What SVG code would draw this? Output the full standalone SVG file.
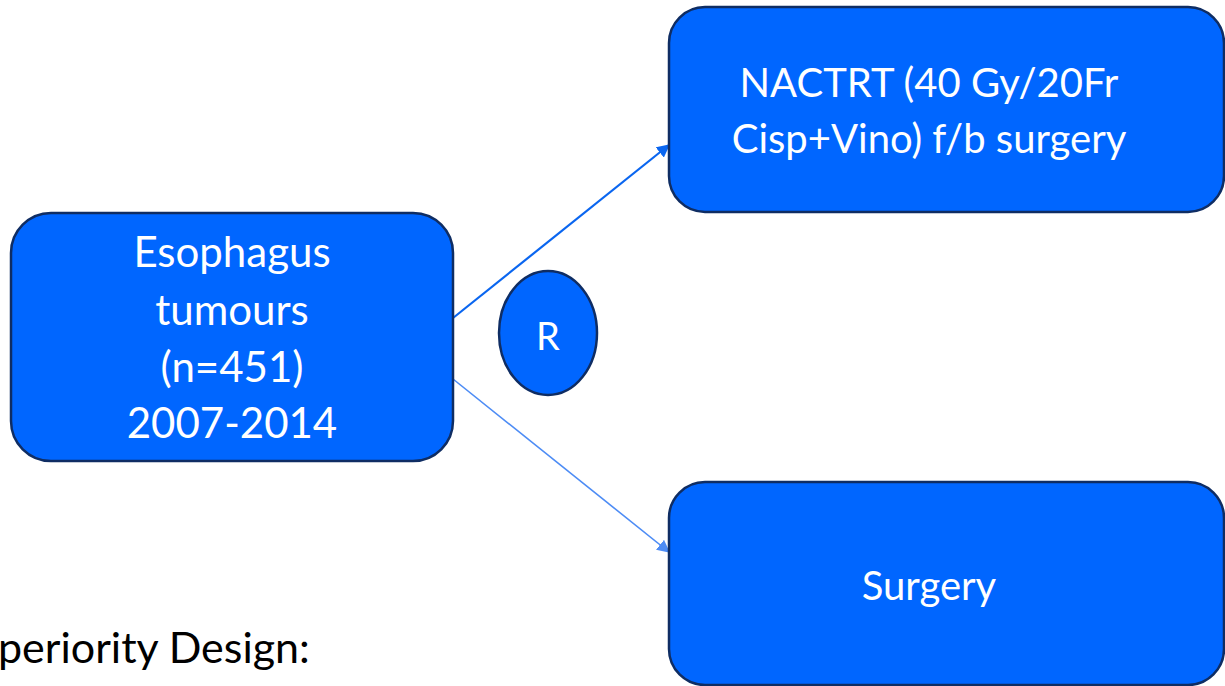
<svg xmlns="http://www.w3.org/2000/svg" width="1225" height="686" viewBox="0 0 1225 686">
  <style>
    .box { fill: #0066FF; stroke: #0F2D63; stroke-width: 2.5; }
    .lbl { fill: #FFFFFF; font-family: Lato, "Open Sans", "Liberation Sans", sans-serif; font-size: 40px; text-anchor: middle; }
    .big { font-size: 42px; }
    .note { fill: #000000; font-family: Lato, "Open Sans", "Liberation Sans", sans-serif; font-size: 43px; }
  </style>
  <defs>
    <marker id="arrowA" viewBox="0 0 10 10" refX="9" refY="5" markerWidth="6" markerHeight="6" orient="auto" markerUnits="strokeWidth">
      <path d="M0,0 L10,5 L0,10 z" fill="#0A66F0"/>
    </marker>
    <marker id="arrowB" viewBox="0 0 10 10" refX="9" refY="5" markerWidth="8" markerHeight="8" orient="auto" markerUnits="strokeWidth">
      <path d="M0,0 L10,5 L0,10 z" fill="#4D8CF5"/>
    </marker>
  </defs>

  <rect width="1225" height="686" fill="#FFFFFF"/>

  <!-- randomisation arms -->
  <g id="connectors">
    <line x1="453" y1="318" x2="669" y2="145" stroke="#0A66F0" stroke-width="2.2" marker-end="url(#arrowA)"/>
    <line x1="453" y1="379" x2="669" y2="552" stroke="#4D8CF5" stroke-width="1.6" marker-end="url(#arrowB)"/>
  </g>

  <g id="node-cohort">
    <rect class="box" x="11" y="213" width="442" height="248" rx="40" ry="40"/>
    <text class="lbl big" x="232" y="267">Esophagus</text>
    <text class="lbl big" x="232" y="325">tumours</text>
    <text class="lbl big" x="232" y="382">(n=451)</text>
    <text class="lbl big" x="232" y="438">2007-2014</text>
  </g>

  <g id="node-random">
    <ellipse class="box" cx="548" cy="333" rx="49" ry="62"/>
    <text class="lbl" x="548" y="350" style="font-size:38px">R</text>
  </g>

  <g id="node-nactrt">
    <rect class="box" x="669" y="7" width="555" height="205" rx="36" ry="36"/>
    <text class="lbl" x="929" y="97">NACTRT (40 Gy/20Fr</text>
    <text class="lbl" x="929" y="153">Cisp+Vino) f/b surgery</text>
  </g>

  <g id="node-surgery">
    <rect class="box" x="669" y="482" width="555" height="203" rx="36" ry="36"/>
    <text class="lbl" x="929" y="600">Surgery</text>
  </g>

  <text class="note" x="-2" y="663">periority Design:</text>
</svg>
